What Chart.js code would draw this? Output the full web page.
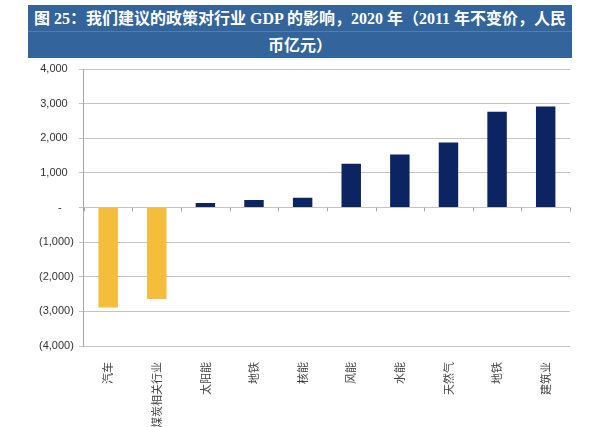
<!DOCTYPE html>
<html>
<head>
<meta charset="utf-8">
<script src="https://cdn.jsdelivr.net/npm/chart.js@4.4.0/dist/chart.umd.min.js"></script>
<style>
  html, body { margin: 0; padding: 0; background: #fff; }
  #wrap { position: relative; width: 600px; height: 427px; }
  #banner {
    position: absolute; left: 28px; top: 5px; width: 544px; height: 53px;
    background: #33649b; color: #fff; text-align: center;
    font: bold 16px "Liberation Serif", "Noto Sans CJK SC", serif;
  }
  #banner div { height: 26px; line-height: 28px; white-space: nowrap; }
  #banner .l1 { border-bottom: 1px solid #4f7fb2; }
  canvas { position: absolute; left: 0; top: 0; }
</style>
</head>
<body>
<div id="wrap">
  <canvas id="myChart" width="600" height="427"></canvas>
  <div id="banner">
    <div class="l1">图 25：我们建议的政策对行业 GDP 的影响，2020 年（2011 年不变价，人民</div>
    <div>币亿元）</div>
  </div>
</div>
<script>
// 行业
let categories = ["汽车", "煤炭相关行业", "太阳能", "地铁", "核能", "风能", "水能", "天然气", "地铁", "建筑业"];
// 对GDP的影响（亿元）
let values = [-2885, -2640, 130, 215, 285, 1265, 1530, 1875, 2765, 2920];
let yTicks = [-4000, -3000, -2000, -1000, 0, 1000, 2000, 3000, 4000];

let barColors = values.map(v => v < 0 ? "#f5bd3c" : "#0d2463");

function fmt(v) {
  if (v == 0) return "-    ";
  let s = Math.abs(v).toLocaleString("en-US");
  if (v < 0) return "(" + s + ")";
  return s + "  ";
}

// little tick marks on the zero line between categories
const zeroTicks = {
  id: "zeroTicks",
  afterDatasetsDraw(chart) {
    let x = chart.scales.x;
    let y0 = chart.scales.y.getPixelForValue(0);
    let ctx = chart.ctx;
    let n = categories.length;
    ctx.save();
    ctx.strokeStyle = "#a6a6a6";
    ctx.lineWidth = 1;
    ctx.beginPath();
    for (let i = 0; i <= n; i++) {
      let px = Math.round(x.left + i * (x.right - x.left) / n) + 0.5;
      ctx.moveTo(px, y0);
      ctx.lineTo(px, y0 + 4);
    }
    ctx.stroke();
    ctx.restore();
  }
};

let chart = new Chart("myChart", {
  type: "bar",
  data: {
    labels: categories,
    datasets: [{
      data: values,
      backgroundColor: barColors,
      barPercentage: 0.4,
      categoryPercentage: 1
    }]
  },
  options: {
    responsive: false,
    animation: false,
    layout: { padding: { top: 69, left: 34, right: 30, bottom: 0 } },
    plugins: {
      legend: { display: false },
      tooltip: { enabled: false }
    },
    scales: {
      x: {
        grid: { display: false },
        border: { display: false },
        afterFit: axis => { axis.height = 81; },
        ticks: {
          minRotation: 90,
          maxRotation: 90,
          padding: 8,
          color: "#444",
          font: { family: "'Noto Sans CJK SC'", size: 11 }
        }
      },
      y: {
        min: -4000,
        max: 4000,
        afterBuildTicks: axis => { axis.ticks = yTicks.map(v => ({ value: v })); },
        grid: { color: "#c4c4c4", tickLength: 5 },
        border: { color: "#a6a6a6" },
        ticks: {
          padding: 5,
          color: "#333",
          font: { family: "'Liberation Sans', Arial", size: 11 },
          callback: v => fmt(v)
        }
      }
    }
  },
  plugins: [zeroTicks]
});
</script>
</body>
</html>
